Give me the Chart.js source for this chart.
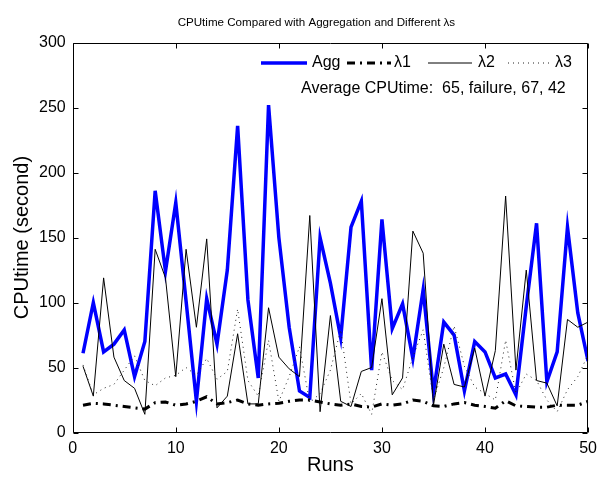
<!DOCTYPE html>
<html>
<head>
<meta charset="utf-8">
<script src="https://cdn.jsdelivr.net/npm/chart.js@4.4.1/dist/chart.umd.min.js"></script>
<style>
  html, body { margin: 0; padding: 0; background: #ffffff; }
  #wrap { width: 603px; height: 477px; }
</style>
</head>
<body>
<div id="wrap"><canvas id="c" width="603" height="477"></canvas></div>
<script>
// ---- data ----
const runs = [1,2,3,4,5,6,7,8,9,10,11,12,13,14,15,16,17,18,19,20,21,22,23,24,25,26,27,28,29,30,31,32,33,34,35,36,37,38,39,40,41,42,43,44,45,46,47,48,49,50];
const aggTimes = [61,100,62,68,79,43,70,186,124,177,101,24,103,68,125,236,102,42,252,150,81,32,27,150,115,73,158,178,48,164,80,99,57,110,31,85,75,32,70,62,42,45,29,97,161,39,62,158,92,55];
const lambda1Times = [21,22.5,22,21,20,19,18,23,23.5,21,22,24,27.5,22,23,25,22,21,22,22.5,24,25,25,23.5,22,21,22,20,19.5,22,21,22,25,24,20.5,20,22,23,21,20,18.7,24.4,20.5,20,19.5,19.5,21,21,21,24];
const lambda2Times = [51,28,119,58,40,34,14,141,119,43,141,81,149,19,28,76,22,22,96,58,49,43,167,16,90,24,20,47,50,103,29,42,155,138,21,68,37,35,65,28,63,182,48,125,40,38,20.5,87,81,85];
const lambda3Times = [52,29,34,37,48,59,40,36,42,44,50,44,57,41,47,95,40,28,71,24,43,66,23,30,48,79,22,30,14,62,40,33,58,79,25,50,82,51,35,30,25,71,30,45,40,25,16,33,43,60];
const seriesLabels = ['Agg', 'λ1', 'λ2', 'λ3'];
const xTicks = [0,10,20,30,40,50];
const yTicks = [0,50,100,150,200,250,300];
const chartTitle = 'CPUtime Compared with Aggregation and Different λs';
const xTitle = 'Runs';
const yTitle = 'CPUtime (second)';
const averageNote = 'Average CPUtime:  65, failure, 67, 42';

const FONT = '"Liberation Sans", Arial, Helvetica, sans-serif';
const toPoints = (vals) => runs.map((r, i) => ({x: r, y: vals[i]}));

// frame with inward ticks (MATLAB style) + title centred over the axes
const framePlugin = {
  id: 'frame',
  afterDraw(chart) {
    const {ctx, chartArea: a, scales} = chart;
    ctx.save();
    ctx.strokeStyle = '#000';
    ctx.lineWidth = 1;
    ctx.beginPath();
    const L = Math.round(a.left) + 0.5, R = Math.round(a.right) - 0.5;
    const T = Math.round(a.top) + 0.5, B = Math.round(a.bottom) - 0.5;
    ctx.rect(L, T, R - L, B - T);
    const len = 5;
    xTicks.forEach(v => {
      const px = Math.round(scales.x.getPixelForValue(v)) + 0.5;
      ctx.moveTo(px, B); ctx.lineTo(px, B - len);
      ctx.moveTo(px, T); ctx.lineTo(px, T + len);
    });
    yTicks.forEach(v => {
      const py = Math.round(scales.y.getPixelForValue(v)) + 0.5;
      ctx.moveTo(L, py); ctx.lineTo(L + len, py);
      ctx.moveTo(R, py); ctx.lineTo(R - len, py);
    });
    ctx.stroke();
    ctx.fillStyle = '#000';
    ctx.font = '11.6px ' + FONT;
    ctx.textAlign = 'center';
    ctx.textBaseline = 'middle';
    ctx.fillText(chartTitle, (a.left + a.right) / 2 - 14, 23);
    ctx.restore();
  }
};

// legend drawn inside the axes, no box
const legendPlugin = {
  id: 'insideLegend',
  afterDatasetsDraw(chart) {
    const {ctx} = chart;
    const items = [
      {x0: 261, x1: 307, tx: 312},
      {x0: 347, x1: 391, tx: 394},
      {x0: 428, x1: 472, tx: 478},
      {x0: 508, x1: 552, tx: 555}
    ];
    const y = 63;
    ctx.save();
    chart.data.datasets.forEach((ds, i) => {
      const it = items[i];
      ctx.beginPath();
      ctx.strokeStyle = ds.borderColor;
      ctx.lineWidth = ds.borderWidth;
      ctx.setLineDash(ds.borderDash || []);
      ctx.moveTo(it.x0, y);
      ctx.lineTo(it.x1, y);
      ctx.stroke();
      ctx.setLineDash([]);
      ctx.fillStyle = '#000';
      ctx.font = '16px ' + FONT;
      ctx.textBaseline = 'middle';
      ctx.textAlign = 'left';
      ctx.fillText(ds.label, it.tx, y);
    });
    ctx.fillText(averageNote, 301, 89);
    ctx.restore();
  }
};

new Chart(document.getElementById('c'), {
  type: 'line',
  data: {
    datasets: [
      {label: seriesLabels[0], data: toPoints(aggTimes), borderColor: '#0000ff', borderWidth: 3.5, order: 4},
      {label: seriesLabels[1], data: toPoints(lambda1Times), borderColor: '#000000', borderWidth: 3, borderDash: [8, 5, 2, 5], order: 3},
      {label: seriesLabels[2], data: toPoints(lambda2Times), borderColor: '#000000', borderWidth: 1, order: 2},
      {label: seriesLabels[3], data: toPoints(lambda3Times), borderColor: '#222222', borderWidth: 1, borderDash: [1, 4], order: 1}
    ]
  },
  options: {
    responsive: false,
    animation: false,
    devicePixelRatio: 1,
    layout: {padding: {left: 0, right: 9, top: 42.7, bottom: 0}},
    elements: {point: {radius: 0}, line: {tension: 0, fill: false}},
    plugins: {
      legend: {display: false},
      tooltip: {enabled: false},
      title: {display: false}
    },
    scales: {
      x: {
        type: 'linear', min: 0, max: 50,
        afterBuildTicks(s) { s.ticks = xTicks.map(v => ({value: v})); },
        afterFit(s) { s.height = 44.5; },
        grid: {display: false, drawTicks: false},
        border: {display: false},
        ticks: {color: '#000', font: {family: FONT, size: 16}, padding: 6, maxRotation: 0, autoSkip: false},
        title: {display: true, text: xTitle, color: '#000', font: {family: FONT, size: 20}, padding: {top: 0, bottom: 0}}
      },
      y: {
        type: 'linear', min: 0, max: 300,
        afterBuildTicks(s) { s.ticks = yTicks.map(v => ({value: v})); },
        afterFit(s) { s.width = 72.7; },
        grid: {display: false, drawTicks: false},
        border: {display: false},
        ticks: {color: '#000', font: {family: FONT, size: 16}, padding: 7},
        title: {display: true, text: yTitle, color: '#000', font: {family: FONT, size: 20}, padding: {top: 10, bottom: 0}}
      }
    }
  },
  plugins: [framePlugin, legendPlugin]
});
</script>
</body>
</html>
